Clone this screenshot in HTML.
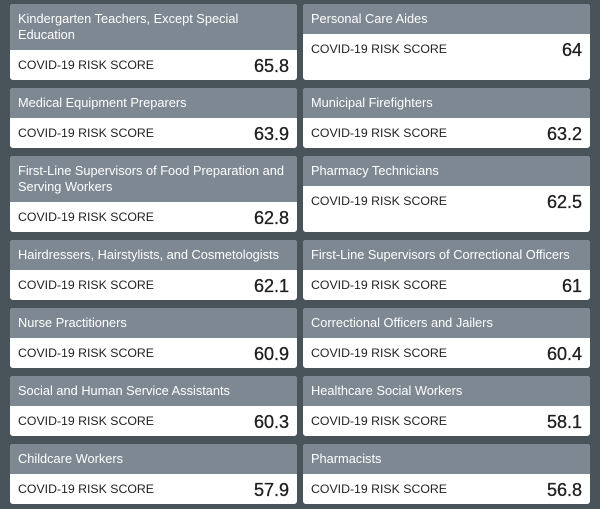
<!DOCTYPE html>
<html><head><meta charset="utf-8"><style>
body{margin:0;width:600px;height:509px;background:#48535a;font-family:"Liberation Sans",sans-serif;overflow:hidden}
.grid{position:absolute;left:10px;top:4px;width:580px;display:grid;grid-template-columns:287px 287px;column-gap:6px;row-gap:8px}
.card{display:flex;flex-direction:column;border-radius:3px;overflow:hidden;background:#fff}
.hd{background:#7d8892;color:#fff;font-size:12.8px;line-height:16px;padding:7px 8px}
.bd{flex:1;display:flex;justify-content:space-between;align-items:flex-start;padding:6px 8px 0;min-height:24px;color:#222}
.lbl{font-size:12.3px;line-height:18px}
.num{font-size:18px;line-height:20px;color:#1e1e1e;-webkit-text-stroke:0.3px #1e1e1e}
</style></head><body>
<div class="grid" id="grid"></div>
<script>
const occupations=["Kindergarten Teachers, Except Special Education","Personal Care Aides","Medical Equipment Preparers","Municipal Firefighters","First-Line Supervisors of Food Preparation and Serving Workers","Pharmacy Technicians","Hairdressers, Hairstylists, and Cosmetologists","First-Line Supervisors of Correctional Officers","Nurse Practitioners","Correctional Officers and Jailers","Social and Human Service Assistants","Healthcare Social Workers","Childcare Workers","Pharmacists"];
const scores=["65.8","64","63.9","63.2","62.8","62.5","62.1","61","60.9","60.4","60.3","58.1","57.9","56.8"];
const g=document.getElementById('grid');
occupations.forEach((o,i)=>{
  const c=document.createElement('div');c.className='card';
  
  
  const h=document.createElement('div');h.className='hd';h.textContent=o;
  
  
  const b=document.createElement('div');b.className='bd';
  
  
  const l=document.createElement('span');l.className='lbl';l.textContent='COVID-19 RISK SCORE';
  
  
  const n=document.createElement('span');n.className='num';n.textContent=scores[i];
  
  
  b.appendChild(l);b.appendChild(n);c.appendChild(h);c.appendChild(b);g.appendChild(c);
});
</script>
</body></html>
